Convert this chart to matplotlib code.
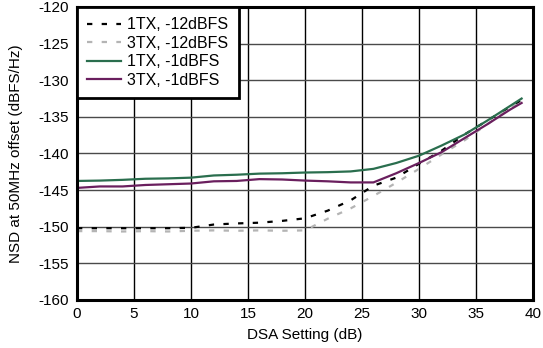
import matplotlib
matplotlib.use("Agg")
import matplotlib.pyplot as plt

plt.rcParams['font.family'] = ['Liberation Sans', 'DejaVu Sans']
plt.rcParams['axes.unicode_minus'] = False

dsa = [0, 2, 4, 6, 8, 10, 12, 14, 16, 18, 20, 22, 24, 26, 28, 30, 32, 34, 36, 38, 39]

tx1_m12 = [-150.2, -150.2, -150.2, -150.2, -150.2, -150.15, -149.7, -149.55, -149.45, -149.2, -148.85,
           -147.8, -146.4, -144.4, -143.3, -141.4, -139.6, -137.4, -135.5, -133.6, -132.7]
tx3_m12 = [-150.6, -150.6, -150.65, -150.6, -150.65, -150.55, -150.5, -150.55, -150.5, -150.55, -150.5,
           -148.9, -147.5, -145.8, -144.0, -142.1, -140.1, -138.2, -136.0, -133.8, -132.9]
tx1_m1 = [-143.75, -143.7, -143.6, -143.45, -143.4, -143.3, -143.0, -142.9, -142.75, -142.7, -142.6,
          -142.55, -142.45, -142.1, -141.3, -140.3, -138.9, -137.4, -135.5, -133.5, -132.5]
tx3_m1 = [-144.7, -144.5, -144.5, -144.3, -144.2, -144.1, -143.8, -143.75, -143.5, -143.55, -143.7,
          -143.8, -143.95, -143.95, -142.7, -141.3, -139.8, -137.9, -136.0, -134.0, -133.1]

labels = ['1TX, -12dBFS', '3TX, -12dBFS', '1TX, -1dBFS', '3TX, -1dBFS']

fig = plt.figure(figsize=(5.43, 3.48), dpi=100)
ax = fig.add_axes([0.1418, 0.138, 0.8398, 0.8419])

ax.plot(dsa, tx1_m12, color='black', lw=1.6, ls=(0, (2.4, 4.2)), label=labels[0])
ax.plot(dsa, tx3_m12, color='#b4b4b4', lw=1.6, ls=(0, (2.4, 4.2)), label=labels[1])
ax.plot(dsa, tx1_m1, color='#2a6e4e', lw=1.6, label=labels[2])
ax.plot(dsa, tx3_m1, color='#6a1f5e', lw=1.6, label=labels[3])

ax.set_xlim(0, 40)
ax.set_ylim(-160, -120)
ax.set_xticks(range(0, 41, 5))
ax.set_yticks(range(-160, -119, 5))
ax.xaxis.grid(True, color='black', lw=1.0)
ax.yaxis.grid(True, color='#4a4a4a', lw=1.0)
ax.set_axisbelow(True)
for s in ax.spines.values():
    s.set_linewidth(2.2)
ax.tick_params(length=0, labelsize=11)
ax.tick_params(axis='y', pad=6)
ax.tick_params(axis='x', pad=5)

ax.set_xlabel('DSA Setting (dB)', fontsize=11, labelpad=5)
ax.set_ylabel('NSD at 50MHz offset (dBFS/Hz)', fontsize=11, labelpad=11)

leg = ax.legend(loc='upper left', prop={'size': 11.5}, fancybox=False, framealpha=1,
                edgecolor='black', borderaxespad=0, handlelength=2.1,
                labelspacing=0.22, borderpad=0.65, handletextpad=0.4)
leg.get_frame().set_linewidth(2.0)

fig.savefig('out.png', dpi=100)
